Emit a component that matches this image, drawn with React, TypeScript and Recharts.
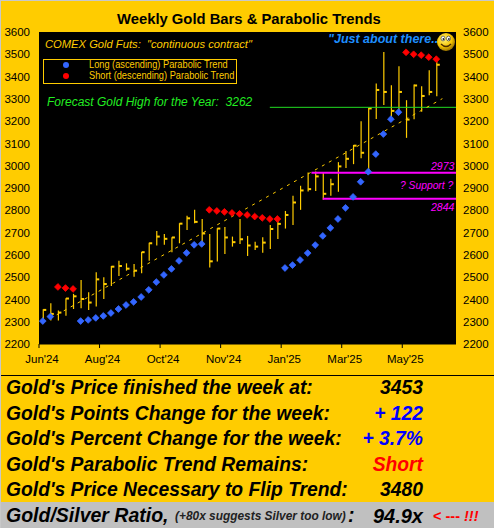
import React from "react";
import {
  ComposedChart,
  Bar,
  Line,
  XAxis,
  YAxis,
  CartesianGrid,
  ReferenceLine
} from "recharts";

const highs = [
  2356, 2383, 2350, 2405, 2425, 2487, 2432, 2522, 2499, 2550, 2573, 2562, 2559, 2613,
  2654, 2707, 2694, 2679, 2742, 2775, 2802, 2761, 2694, 2719, 2725, 2682, 2761, 2685,
  2659, 2679, 2734, 2764, 2797, 2865, 2910, 2970, 2974, 2967, 2941, 3016, 3066, 3093,
  3200, 3260, 3369, 3510, 3361, 3446, 3294, 3364, 3357, 3428, 3469
];
const lows = [
  2293, 2305, 2305, 2327, 2357, 2360, 2353, 2368, 2402, 2460, 2505, 2529, 2502, 2517,
  2574, 2642, 2645, 2612, 2652, 2712, 2742, 2652, 2543, 2570, 2604, 2637, 2649, 2595,
  2622, 2610, 2626, 2671, 2718, 2734, 2802, 2884, 2887, 2847, 2865, 2883, 2990, 3007,
  3034, 2973, 3210, 3272, 3212, 3242, 3125, 3209, 3242, 3316, 3312
];
const closes = [
  2353, 2335, 2341, 2404, 2414, 2402, 2386, 2490, 2469, 2547, 2550, 2538, 2529, 2612,
  2652, 2682, 2672, 2678, 2740, 2764, 2748, 2696, 2571, 2718, 2678, 2657, 2670, 2642,
  2637, 2655, 2716, 2739, 2779, 2835, 2889, 2895, 2952, 2874, 2917, 2997, 3031, 3090,
  3058, 3257, 3340, 3331, 3246, 3331, 3207, 3360, 3313, 3331, 3453
];
const longTrend = [
  2303, 2323, null, null, null, 2303, 2308, 2317, 2326, 2339, 2357, 2375, 2389, 2411,
  2443, 2478, 2510, 2537, 2573, 2609, 2645, 2649, null, null, null, null, null, null,
  null, null, null, null, 2541, 2554, 2577, 2608, 2644, 2685, 2721, 2761, 2811, 2860,
  2928, 2973, 3052, 3142, 3209, 3240, null, null, null, null, null
];
const shortTrend = [
  null, null, 2456, 2451, 2447, null, null, null, null, null, null, null, null, null,
  null, null, null, null, null, null, null, null, 2802, 2797, 2793, 2788, 2784, 2779,
  2772, 2766, 2761, 2761, null, null, null, null, null, null, null, null, null, null,
  null, null, null, null, null, null, 3509, 3500, 3496, 3487, 3478
];

const regression = [
  { week: 0, value: 2296 },
  { week: 52.8, value: 3301 }
];

const yTicks = [
  2200, 2300, 2400, 2500, 2600, 2700, 2800, 2900, 3000, 3100, 3200, 3300, 3400, 3500, 3600
];
const xTicks = [-0.5, 7.5, 15.5, 23.5, 31.5, 39.5, 47.5];
const xLabels = ["Jun'24", "Aug'24", "Oct'24", "Nov'24", "Jan'25", "Mar'25", "May'25"];

const forecastHigh = 3262;
const supportUpper = 2968;
const supportLower = 2852;

const rowLabels = [
  "Gold's Price finished the week at:",
  "Gold's Points Change for the week:",
  "Gold's Percent Change for the week:",
  "Gold's Parabolic Trend Remains:",
  "Gold's Price Necessary to Flip Trend:"
];
const rowValues = ["3453", "+ 122", "+ 3.7%", "Short", "3480"];
const rowColors = ["#000", "#0000ff", "#0000ff", "#ff0000", "#000"];

const GOLD = "#ffcc00";
const MAGENTA = "#ff00ff";
const FONT = '"Liberation Sans", Arial, sans-serif';

const data = highs.map((high, i) => ({
  week: i,
  range: [lows[i], high],
  high,
  low: lows[i],
  close: closes[i],
  long: longTrend[i],
  short: shortTrend[i]
}));

// high-low stick with the weekly close as a tick on the right
const WeekBar = (props: any) => {
  const { x, y, width, height, payload } = props;
  const cx = x + width / 2;
  const closeY = y + ((payload.high - payload.close) / (payload.high - payload.low)) * height;
  return (
    <g>
      <line x1={cx} x2={cx} y1={y} y2={y + height} stroke={GOLD} strokeWidth={1.2} />
      <rect x={cx} y={closeY - 1} width={3} height={2} fill={GOLD} />
    </g>
  );
};

const diamond = (color: string) => (props: any) => {
  const { cx, cy, value, index } = props;
  if (value == null || cx == null || cy == null) return <g key={index} />;
  const r = 3.4;
  return (
    <path
      key={index}
      d={`M${cx} ${cy - r}L${cx + r} ${cy}L${cx} ${cy + r}L${cx - r} ${cy}Z`}
      fill={color}
      stroke={color}
      strokeWidth={0.8}
      strokeLinejoin="round"
    />
  );
};

const MonthTick = (props: any) => {
  const { x, y, payload, index } = props;
  return (
    <text x={x + 3} y={y + 13} textAnchor="middle" fontSize={11.5} fill="#000">
      {xLabels[index] ?? payload.value}
    </text>
  );
};

const at = (left: number, top: number, style: React.CSSProperties): React.CSSProperties => ({
  position: "absolute",
  left,
  top,
  whiteSpace: "pre",
  lineHeight: 1,
  ...style
});

const legendText: React.CSSProperties = {
  fontSize: 11,
  color: GOLD,
  transform: "scaleX(0.84)",
  transformOrigin: "left center"
};

const Smiley = () => (
  <svg width={20} height={20} style={{ position: "absolute", left: 436, top: 32 }}>
    <defs>
      <radialGradient id="smile" cx="40%" cy="35%" r="70%">
        <stop offset="0%" stopColor="#fff27a" />
        <stop offset="60%" stopColor="#f5c400" />
        <stop offset="100%" stopColor="#8a6400" />
      </radialGradient>
    </defs>
    <circle cx={10} cy={10} r={9} fill="url(#smile)" />
    <ellipse cx={7} cy={6.5} rx={2} ry={2.4} fill="#fff" stroke="#222" strokeWidth={0.6} />
    <ellipse cx={12.5} cy={6.5} rx={2} ry={2.4} fill="#fff" stroke="#222" strokeWidth={0.6} />
    <circle cx={7.4} cy={7} r={0.9} fill="#222" />
    <circle cx={12.9} cy={7} r={0.9} fill="#222" />
    <path d="M5 12 Q10 17 15 12" fill="none" stroke="#4a2c00" strokeWidth={1.4} />
  </svg>
);

export default function App() {
  return (
    <div
      style={{
        position: "absolute",
        left: 0,
        top: 0,
        width: 494,
        height: 528,
        overflow: "hidden",
        background: GOLD,
        fontFamily: FONT
      }}
    >
      <ComposedChart
        width={494}
        height={372}
        data={data}
        margin={{ top: 32, right: 0, bottom: 0, left: 0 }}
        style={{ position: "absolute", left: 0, top: 0 }}
      >
        <CartesianGrid
          fill="#000"
          stroke="none"
          horizontal={false}
          vertical={false}
          yAxisId="left"
        />
        <XAxis
          dataKey="week"
          type="number"
          domain={[-0.5, 54.6]}
          ticks={xTicks}
          interval={0}
          height={28}
          tickSize={4}
          axisLine={{ stroke: "#000" }}
          tickLine={{ stroke: "#000" }}
          tick={<MonthTick />}
          allowDecimals
        />
        <YAxis
          yAxisId="left"
          orientation="left"
          width={39}
          domain={[2200, 3600]}
          ticks={yTicks}
          interval={0}
          axisLine={false}
          tickLine={false}
          tickSize={0}
          tickMargin={9}
          tick={{ fill: "#000", fontSize: 11.5 }}
        />
        <YAxis
          yAxisId="right"
          orientation="right"
          width={38}
          domain={[2200, 3600]}
          ticks={yTicks}
          interval={0}
          axisLine={false}
          tickLine={false}
          tickSize={0}
          tickMargin={7}
          tick={{ fill: "#000", fontSize: 11.5 }}
        />
        {/* keeps the right hand price axis attached to a series */}
        <Line
          yAxisId="right"
          dataKey="close"
          stroke="none"
          dot={false}
          legendType="none"
          isAnimationActive={false}
        />
        <ReferenceLine
          yAxisId="left"
          segment={[
            { x: 30, y: forecastHigh },
            { x: 54.6, y: forecastHigh }
          ]}
          stroke="#22dd22"
          strokeWidth={1}
        />
        <Line
          yAxisId="left"
          data={regression}
          dataKey="value"
          stroke={GOLD}
          strokeWidth={1}
          strokeDasharray="3 5"
          dot={false}
          isAnimationActive={false}
        />
        <Bar
          yAxisId="left"
          dataKey="range"
          barSize={3}
          shape={<WeekBar />}
          isAnimationActive={false}
        />
        <ReferenceLine
          yAxisId="left"
          segment={[
            { x: 35.5, y: supportUpper },
            { x: 54.6, y: supportUpper }
          ]}
          stroke={MAGENTA}
          strokeWidth={2}
        />
        <ReferenceLine
          yAxisId="left"
          segment={[
            { x: 37, y: supportLower },
            { x: 54.6, y: supportLower }
          ]}
          stroke={MAGENTA}
          strokeWidth={2}
        />
        <Line
          yAxisId="left"
          dataKey="long"
          stroke="none"
          dot={diamond("#3366ff")}
          isAnimationActive={false}
        />
        <Line
          yAxisId="left"
          dataKey="short"
          stroke="none"
          dot={diamond("#ff0000")}
          isAnimationActive={false}
        />
      </ComposedChart>

      {/* window edge */}
      <div style={{ position: "absolute", left: 0, top: 0, width: 494, height: 1, background: "#c8c8c8" }} />
      <div style={{ position: "absolute", left: 0, top: 0, width: 1, height: 528, background: "#c8c8c8" }} />

      <div style={at(117, 12, { fontSize: 14.8, fontWeight: 700, color: "#000" })}>
        Weekly Gold Bars &amp; Parabolic Trends
      </div>

      <div style={at(45, 38.5, { fontSize: 11.2, fontStyle: "italic", color: GOLD })}>
        COMEX Gold Futs:  "continuous contract"
      </div>

      <div
        style={{
          position: "absolute",
          left: 43,
          top: 59,
          width: 192,
          height: 23,
          border: `1px solid ${GOLD}`
        }}
      />
      <svg width={10} height={22} style={{ position: "absolute", left: 61, top: 60 }}>
        <circle cx={5} cy={5} r={3} fill="#3366ff" />
        <circle cx={5} cy={16} r={3} fill="#ff0000" />
      </svg>
      <div style={at(88.5, 59.2, legendText)}>Long (ascending) Parabolic Trend</div>
      <div style={at(88.5, 70.2, legendText)}>Short (descending) Parabolic Trend</div>

      <div style={at(47, 95.5, { fontSize: 12, fontStyle: "italic", color: "#22ee22" })}>
        Forecast Gold High for the Year:  3262
      </div>

      <div style={at(328, 33, { fontSize: 12.5, fontWeight: 700, fontStyle: "italic", color: "#1e8fff" })}>
        "Just about there..."
      </div>
      <Smiley />

      <div style={at(431, 161, { fontSize: 10.5, fontStyle: "italic", color: MAGENTA })}>2973</div>
      <div style={at(400, 181, { fontSize: 10.3, fontStyle: "italic", color: MAGENTA })}>? Support ?</div>
      <div style={at(431, 202, { fontSize: 10.5, fontStyle: "italic", color: MAGENTA })}>2844</div>

      <div style={{ position: "absolute", left: 1, top: 375, width: 493, height: 1, background: "#000" }} />
      {rowLabels.map((label, i) => (
        <React.Fragment key={label}>
          <div style={at(6, 378 + i * 25.6, { fontSize: 19.3, fontWeight: 700, fontStyle: "italic", color: "#000" })}>
            {label}
          </div>
          <div
            style={at(323, 378 + i * 25.6, {
              width: 100,
              textAlign: "right",
              fontSize: 19.3,
              fontWeight: 700,
              fontStyle: "italic",
              color: rowColors[i]
            })}
          >
            {rowValues[i]}
          </div>
        </React.Fragment>
      ))}

      <div style={{ position: "absolute", left: 1, top: 502, width: 493, height: 26, background: "#c0c0c0" }} />
      <div style={at(6, 506, { fontSize: 19.5, fontWeight: 700, fontStyle: "italic", color: "#000" })}>
        Gold/Silver Ratio,
      </div>
      <div style={at(175, 511, { fontSize: 11.9, fontWeight: 700, fontStyle: "italic", color: "#222" })}>
        (+80x suggests Silver too low)
      </div>
      <div style={at(348, 506, { fontSize: 19.5, fontWeight: 700, fontStyle: "italic", color: "#000" })}>:</div>
      <div
        style={at(323, 506, {
          width: 100,
          textAlign: "right",
          fontSize: 20,
          fontWeight: 700,
          fontStyle: "italic",
          color: "#000"
        })}
      >
        94.9x
      </div>
      <div style={at(433, 509, { fontSize: 14.5, fontWeight: 700, color: "#ff0000" })}>
        {"< --- "}
        <span style={{ fontStyle: "italic" }}>!!!</span>
      </div>
    </div>
  );
}
